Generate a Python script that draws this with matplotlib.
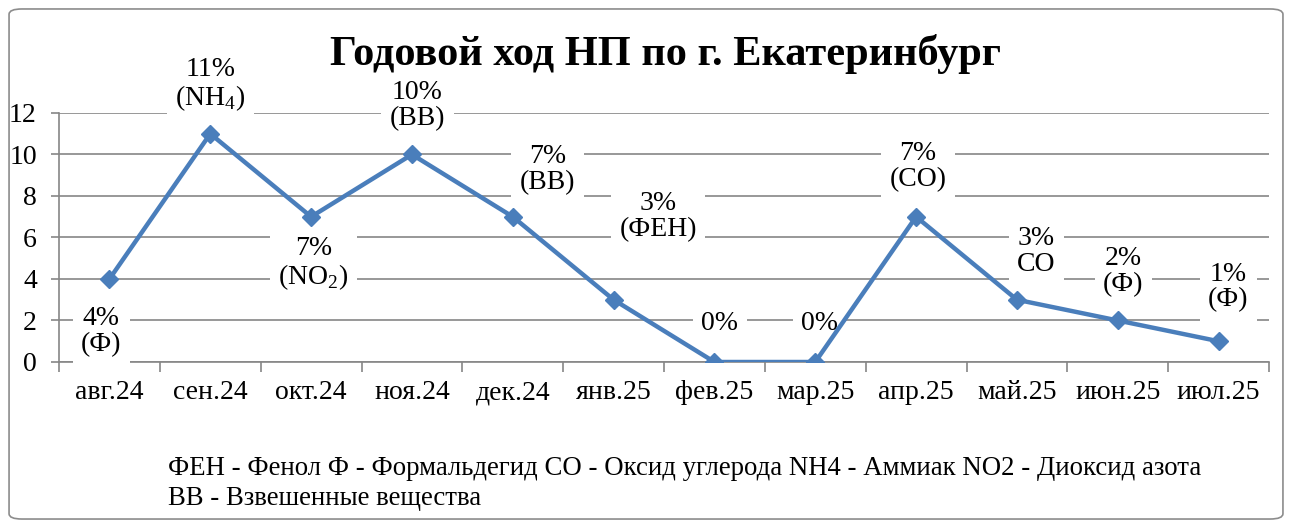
import matplotlib
matplotlib.use("Agg")
import matplotlib.pyplot as plt
from matplotlib.patches import FancyBboxPatch

plt.rcParams['font.family'] = ['Liberation Serif', 'DejaVu Serif']
plt.rcParams['mathtext.fontset'] = 'custom'
plt.rcParams['mathtext.rm'] = 'Liberation Serif'

# данные
months = ['авг.24', 'сен.24', 'окт.24', 'ноя.24', 'дек.24', 'янв.25',
          'фев.25', 'мар.25', 'апр.25', 'май.25', 'июн.25', 'июл.25']
values = [4, 11, 7, 10, 7, 3, 0, 0, 7, 3, 2, 1]
labels = ['4%\n(Ф)', '11%\n(NH$_\\mathrm{4}$)', '7%\n(NO$_\\mathrm{2}$)', '10%\n(ВВ)',
          '7%\n(ВВ)', '3%\n(ФЕН)', '0%', '0%', '7%\n(CO)', '3%\nCO', '2%\n(Ф)', '1%\n(Ф)']
# смещения подписей, в пунктах
offsets = [(-6, -38), (0, 35), (1.5, -34), (4, 35), (25, 34), (32, 60),
           (4, 28), (3, 28), (1.5, 36), (14, 35), (4, 35), (7, 39)]
legend_txt = ('ФЕН - Фенол Ф - Формальдегид СО - Оксид углерода NH4 - Аммиак NO2 - Диоксид азота\n'
              'ВВ - Взвешенные вещества')

fig = plt.figure(figsize=(12.92, 5.28), dpi=100)
fig.patches.append(FancyBboxPatch((0.007, 0.017), 0.986, 0.966, boxstyle='round,pad=0,rounding_size=0.01',
                                  transform=fig.transFigure, fc='none', ec='#8c8c8c', lw=1.2))
ax = fig.add_axes([0.0457, 0.3144, 0.9365, 0.4716])
ax.patch.set_alpha(0)

x = list(range(len(months)))
ax.plot(x, values, color='#4a7ebb', lw=3.2, marker='D', ms=9, zorder=5)
ax.set_xlim(-0.5, len(months) - 0.5)
ax.set_ylim(0, 12)
ax.set_yticks(range(0, 13, 2))
ax.set_xticks(x)
ax.set_xticklabels(months, fontsize=20)
ax.set_xticks([i - 0.5 for i in range(len(months) + 1)], minor=True)
ax.tick_params(axis='x', which='major', length=0, pad=13)
ax.tick_params(axis='x', which='minor', length=7, color='#868686', width=1.2)
ax.tick_params(axis='y', length=6, color='#868686', width=1.2, labelsize=20, pad=10)
ax.grid(axis='y', color='#868686', lw=1.2, zorder=0)
for s in ['top', 'right']:
    ax.spines[s].set_visible(False)
for s in ['left', 'bottom']:
    ax.spines[s].set_color('#868686')
    ax.spines[s].set_linewidth(1.2)

for xi, yi, lab, off in zip(x, values, labels, offsets):
    ax.annotate(lab, (xi, yi), xytext=off, textcoords='offset points', ha='center', va='center',
                fontsize=20, linespacing=1.05, zorder=4,
                bbox=dict(boxstyle='square,pad=0.3', fc='white', ec='none'))

fig.text(0.515, 0.897, 'Годовой ход НП по г. Екатеринбург', ha='center', va='center',
         fontsize=30.5, fontweight='bold')
fig.text(0.13, 0.032, legend_txt, ha='left', va='bottom', fontsize=19.3, linespacing=1.25)

fig.savefig('out.png', dpi=100)
